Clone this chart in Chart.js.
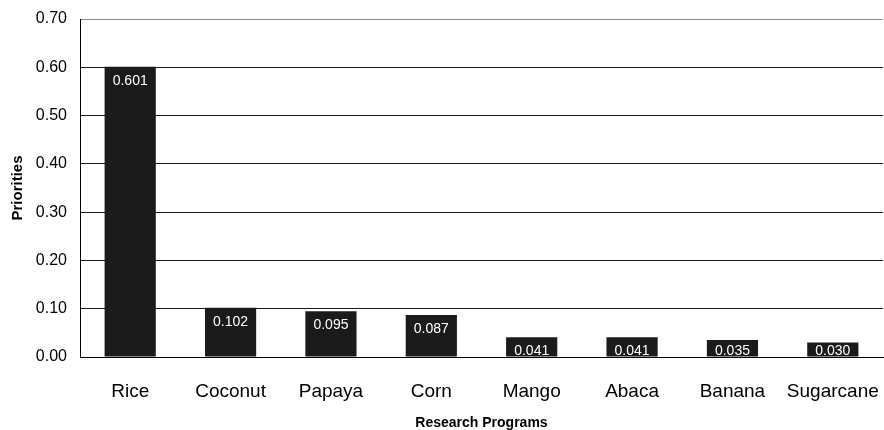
<!DOCTYPE html>
<html>
<head>
<meta charset="utf-8">
<script src="https://cdn.jsdelivr.net/npm/chart.js@4"></script>
<style>
  body { margin: 0; background: #fff; }
  #wrap { width: 884px; height: 430px; }
</style>
</head>
<body>
<div id="wrap"><canvas id="myChart" width="884" height="430"></canvas></div>
<script>
"use strict";

const programs = ['Rice', 'Coconut', 'Papaya', 'Corn', 'Mango', 'Abaca', 'Banana', 'Sugarcane'];
const priorities = [0.601, 0.102, 0.095, 0.087, 0.041, 0.041, 0.035, 0.030];

const fontFamily = "Arial, 'Liberation Sans', sans-serif";

// value labels inside the top of each bar
const barLabels = {
  id: 'barLabels',
  afterDatasetsDraw(chart) {
    const ctx = chart.ctx;
    const meta = chart.getDatasetMeta(0);
    ctx.save();
    ctx.font = '14px ' + fontFamily;
    ctx.fillStyle = '#ffffff';
    ctx.textAlign = 'center';
    ctx.textBaseline = 'middle';
    meta.data.forEach((bar, i) => {
      const y = Math.min(bar.y + 14.5, bar.base - 5);
      ctx.fillText(priorities[i].toFixed(3), bar.x, y);
    });
    ctx.restore();
  }
};

const ctx = document.querySelector('#myChart').getContext('2d');

const config = {
  type: 'bar',
  data: {
    labels: programs,
    datasets: [{
      data: priorities,
      backgroundColor: '#1b1b1b',
      borderWidth: 0,
      barPercentage: 0.51,
      categoryPercentage: 1
    }]
  },
  options: {
    responsive: false,
    animation: false,
    layout: { padding: { top: 19, right: 1, bottom: 0, left: 0 } },
    plugins: {
      legend: { display: false },
      tooltip: { enabled: false }
    },
    scales: {
      x: {
        grid: { display: false },
        border: { display: true, color: '#000000', width: 1 },
        ticks: {
          color: '#000000',
          padding: 15,
          maxRotation: 0,
          font: { family: fontFamily, size: 19 }
        },
        title: {
          display: true,
          text: 'Research Programs',
          color: '#000000',
          padding: { top: 0, bottom: 0 },
          font: { family: fontFamily, size: 14, weight: 'bold', lineHeight: 1 }
        },
        afterFit: (scale) => {
          scale.height = 73;
          scale.paddingLeft = 0;
          scale.paddingRight = 0;
        }
      },
      y: {
        min: 0,
        max: 0.7,
        grid: {
          drawTicks: false,
          color: (c) => c.tick && c.tick.value >= 0.69 ? '#8a8a8a' : '#1a1a1a',
          lineWidth: 1
        },
        border: { display: true, color: '#000000', width: 1 },
        ticks: {
          stepSize: 0.1,
          color: '#000000',
          padding: 13,
          font: { family: fontFamily, size: 16 },
          callback: (v) => Number(v).toFixed(2)
        },
        title: {
          display: true,
          text: 'Priorities',
          color: '#000000',
          padding: { top: 10, bottom: 0 },
          font: { family: fontFamily, size: 15, weight: 'bold', lineHeight: 1 }
        },
        afterFit: (scale) => {
          scale.width = 80;
          scale.paddingTop = 0;
          scale.paddingBottom = 0;
        }
      }
    }
  },
  plugins: [barLabels]
};

const myChart = new Chart(ctx, config);
</script>
</body>
</html>
